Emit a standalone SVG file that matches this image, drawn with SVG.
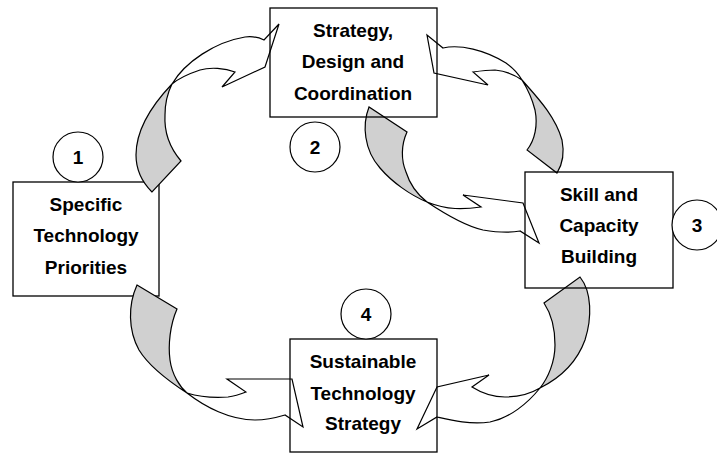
<svg xmlns="http://www.w3.org/2000/svg" width="717" height="454" viewBox="0 0 717 454">
<style>
.box{fill:none;stroke:#000;stroke-width:1.3}
.box1{fill:#fff;stroke:#000;stroke-width:1.3}
.num{fill:#fff;stroke:#000;stroke-width:1.2}
.lbl{font-family:"Liberation Sans",Arial,sans-serif;font-weight:bold;font-size:19px;text-anchor:middle;fill:#000}
.back{fill:#d0d0d0;stroke:#000;stroke-width:1.2;stroke-linejoin:miter}
.front{fill:#fff;stroke:#000;stroke-width:1.2;stroke-linejoin:miter}
</style>
<rect width="717" height="454" fill="#fff"/>
<g id="node1">
<rect class="box1" x="13" y="182" width="146" height="114"/>
<text class="lbl" x="86" y="211">Specific</text>
<text class="lbl" x="86" y="242">Technology</text>
<text class="lbl" x="86" y="274">Priorities</text>
</g>
<g id="connectors">
<g id="arrow-1-2">
<path class="back" d="M172,84 C152,105 136,130 136,155 C136,172 143,183 152,192 L181,161 C170,148 164,132 165,115 C165,102 168,92 172,84 Z"/>
<path class="front" d="M172,84 C185,62 215,42 245,37 C253,36 258,37 264,40 L279,24 L265,67 L222,87 L235,72 C225,68 210,67 200,70 C188,74 178,79 172,84 Z"/>
</g>
<g id="arrow-3-2">
<path class="back" d="M522,80 C535,95 555,115 562,140 C565,155 562,165 557,173 L527,150 C535,140 538,125 535,110 C532,98 527,88 522,80 Z"/>
<path class="front" d="M522,80 C515,75 505,71 495,70 C488,70 480,71 473,72 L488,85 L434,73 L427,35 L443,48 C460,44 485,50 506,63 C513,68 518,73 522,80 Z"/>
</g>
<g id="arrow-2-3">
<path class="back" d="M427,202 C410,195 392,182 380,168 C364,150 362,125 369,107 L407,132 C401,145 401,160 406,172 C410,185 418,195 427,202 Z"/>
<path class="front" d="M427,202 C437,206 445,208 455,208.5 C465,209 474,208 481,207 L463,195 L523,203 L539,243 L520,231 C510,233 495,232 483,230 C465,226 445,214 427,202 Z"/>
</g>
<g id="arrow-3-4">
<path class="back" d="M544,303 L580,277 C592,292 592,318 585,340 C577,362 560,378 540,388 C548,378 555,362 555,345 C555,330 552,315 544,303 Z"/>
<path class="front" d="M540,388 C530,394 520,397 505,397 C492,397 480,392 472,387 L489,375 L437,387 L417,429 L437,417 C450,420 470,425 490,422 C510,418 528,403 540,388 Z"/>
</g>
<g id="arrow-1-4">
<path class="back" d="M137,285 L177,309 C170,325 168,345 170,360 C172,375 180,387 187,393 C170,382 150,368 139,350 C128,330 128,305 137,285 Z"/>
<path class="front" d="M187,393 C200,397 215,398 228,397 C236,396 241,394 246,392 L227,379 L292,379 L303,427 L285,415 C275,418 265,420 255,420 C230,420 205,407 187,393 Z"/>
</g>
</g>
<g id="node2">
<rect class="box" x="270" y="8" width="167" height="109"/>
<text class="lbl" x="353" y="37">Strategy,</text>
<text class="lbl" x="353" y="68">Design and</text>
<text class="lbl" x="353" y="100">Coordination</text>
</g>
<g id="node3">
<rect class="box" x="525" y="172" width="148" height="116"/>
<text class="lbl" x="599" y="201">Skill and</text>
<text class="lbl" x="599" y="232">Capacity</text>
<text class="lbl" x="599" y="263">Building</text>
</g>
<g id="node4">
<rect class="box" x="290" y="339" width="147" height="113"/>
<text class="lbl" x="363" y="368">Sustainable</text>
<text class="lbl" x="363" y="400">Technology</text>
<text class="lbl" x="363" y="430">Strategy</text>
</g>
<g id="badge1">
<circle class="num" cx="78" cy="157" r="25"/>
<text class="lbl" x="78" y="164">1</text>
</g>
<g id="badge2">
<circle class="num" cx="315" cy="147" r="25"/>
<text class="lbl" x="315" y="154">2</text>
</g>
<g id="badge3">
<circle class="num" cx="697" cy="225" r="25"/>
<text class="lbl" x="697" y="232">3</text>
</g>
<g id="badge4">
<circle class="num" cx="366" cy="314" r="25"/>
<text class="lbl" x="366" y="321">4</text>
</g>
</svg>
